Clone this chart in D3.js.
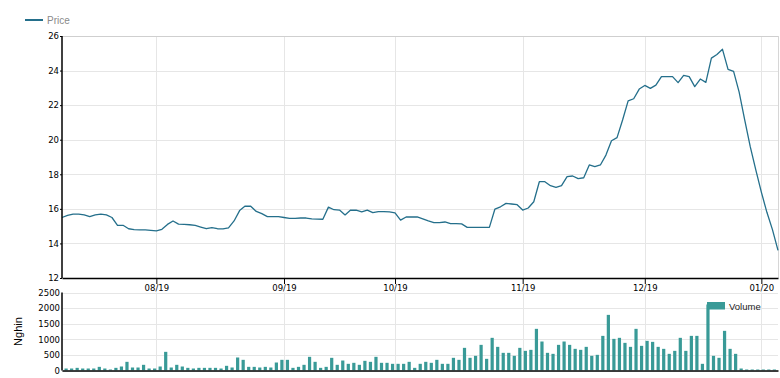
<!DOCTYPE html>
<html>
<head>
<meta charset="utf-8">
<script src="https://cdn.jsdelivr.net/npm/d3@7"></script>
<style>
  body { margin: 0; background: #fff; }
  svg { display: block; }
</style>
</head>
<body>
<div id="chart"></div>
<script>
// price / volume chart, two stacked panels sharing the trading-day index

const tickIndex = [17, 40, 60, 83, 105, 126];
const tickLabels = ["08/19", "09/19", "10/19", "11/19", "12/19", "01/20"];
const priceTicks = [12, 14, 16, 18, 20, 22, 24, 26];
const volumeTicks = [0, 500, 1000, 1500, 2000, 2500];

const price = [
  15.5, 15.62, 15.7, 15.7, 15.65, 15.55, 15.65, 15.7, 15.65, 15.5,
  15.05, 15.05, 14.85, 14.8, 14.78, 14.78, 14.76, 14.73, 14.82, 15.1,
  15.3, 15.12, 15.1, 15.08, 15.05, 14.95, 14.85, 14.92, 14.85, 14.84,
  14.9, 15.3, 15.9, 16.16, 16.15, 15.85, 15.72, 15.55, 15.55, 15.55,
  15.5, 15.45, 15.45, 15.47, 15.47, 15.42, 15.41, 15.4, 16.1, 15.95,
  15.93, 15.65, 15.93, 15.92, 15.82, 15.93, 15.78, 15.84, 15.84, 15.82,
  15.77, 15.35, 15.53, 15.53, 15.53, 15.42, 15.3, 15.2, 15.2, 15.24,
  15.14, 15.14, 15.13, 14.93, 14.93, 14.93, 14.93, 14.93, 15.99, 16.12,
  16.32, 16.28, 16.24, 15.93, 16.05, 16.41, 17.57, 17.57, 17.34, 17.24,
  17.34, 17.86, 17.9, 17.75, 17.8, 18.54, 18.44, 18.54, 19.11, 19.94,
  20.12, 21.14, 22.25, 22.37, 22.93, 23.14, 22.97, 23.16, 23.65, 23.65,
  23.65, 23.3, 23.72, 23.65, 23.07, 23.51, 23.32, 24.72, 24.93, 25.23,
  24.07, 23.95, 22.75, 21.15, 19.6, 18.25, 16.97, 15.8, 14.8, 13.6
];

// thousands of shares
const volume = [
  64, 64, 85, 64, 64, 64, 117, 64, 32, 85,
  128, 278, 96, 96, 182, 64, 64, 128, 598, 96,
  182, 128, 85, 64, 85, 85, 85, 85, 64, 150,
  96, 417, 342, 117, 117, 96, 117, 96, 256, 342,
  342, 85, 117, 182, 438, 278, 85, 117, 406, 182,
  320, 214, 246, 182, 310, 278, 438, 246, 246, 214,
  214, 214, 278, 85, 214, 278, 246, 342, 214, 214,
  406, 342, 726, 406, 470, 822, 374, 1047, 758, 566,
  566, 470, 726, 630, 662, 1335, 929, 566, 534, 822,
  929, 822, 694, 662, 758, 470, 502, 1110, 1783, 1014,
  1047, 886, 758, 1335, 790, 950, 918, 758, 694, 534,
  630, 1047, 630, 1110, 1110, 214, 2115, 470, 406, 1271,
  694, 534, 64, 32, 32, 32, 32, 32, 32, 0
];

const width = 780, height = 378;
const left = 62, right = 778;
const pTop = 36, pBottom = 278;
const vTop = 292.5, vBottom = 370.5;

const lineColor = "#246f8b";
const barColor = "#399a97";
const gridColor = "#e6e6e6";
const tickFont = "'DejaVu Sans', Verdana, sans-serif";
const legendFont = "'Liberation Sans', Arial, sans-serif";

const svg = d3.select("#chart").append("svg")
  .attr("width", width)
  .attr("height", height);

const idx = d3.range(price.length);

const x = d3.scalePoint().domain(idx).range([left, right]);
const xVol = d3.scaleBand().domain(idx).range([64.5, 781.5]).paddingInner(0.42);

const yPrice = d3.scaleLinear().domain([12, 26]).range([pBottom, pTop]);
const yVol = d3.scaleLinear().domain([0, 2500]).range([vBottom, vTop]);

svg.append("defs").append("clipPath").attr("id", "volClip")
  .append("rect")
  .attr("x", left).attr("y", vTop - 20)
  .attr("width", right - left).attr("height", vBottom - vTop + 20);

// ---- grids
function hGrid(scale, ticks) {
  svg.append("g")
    .selectAll("line")
    .data(ticks)
    .enter().append("line")
    .attr("x1", left).attr("x2", right)
    .attr("y1", d => Math.round(scale(d)) + 0.5)
    .attr("y2", d => Math.round(scale(d)) + 0.5)
    .attr("stroke", gridColor)
    .attr("stroke-width", 1);
}
hGrid(yPrice, priceTicks);
hGrid(yVol, volumeTicks);

function vGrid(y0, y1) {
  svg.append("g")
    .selectAll("line")
    .data(tickIndex)
    .enter().append("line")
    .attr("x1", d => Math.round(x(d)) + 0.5)
    .attr("x2", d => Math.round(x(d)) + 0.5)
    .attr("y1", y0).attr("y2", y1)
    .attr("stroke", gridColor)
    .attr("stroke-width", 1);
}
vGrid(pTop, pBottom);
vGrid(vTop, vBottom);

// frame top / right of price panel
svg.append("line")
  .attr("x1", left).attr("x2", right + 1)
  .attr("y1", pTop + 0.5).attr("y2", pTop + 0.5)
  .attr("stroke", "#cfcfcf");
svg.append("line")
  .attr("x1", right + 0.5).attr("x2", right + 0.5)
  .attr("y1", pTop).attr("y2", pBottom)
  .attr("stroke", "#d6d6d6");

// ---- price line
const line = d3.line()
  .x((d, i) => x(i))
  .y(d => yPrice(d));

svg.append("path")
  .datum(price)
  .attr("fill", "none")
  .attr("stroke", lineColor)
  .attr("stroke-width", 1.3)
  .attr("stroke-linejoin", "round")
  .attr("d", line);

// ---- volume bars
svg.append("g")
  .attr("clip-path", "url(#volClip)")
  .selectAll("rect")
  .data(volume)
  .enter().append("rect")
  .attr("x", (d, i) => xVol(i))
  .attr("width", xVol.bandwidth())
  .attr("y", d => yVol(d))
  .attr("height", d => vBottom - yVol(d))
  .attr("fill", barColor);

// ---- axes
const yAxisP = svg.append("g")
  .attr("transform", `translate(${left},0)`)
  .call(d3.axisLeft(yPrice).tickValues(priceTicks).tickSize(2).tickSizeOuter(0).tickPadding(1));

const yAxisV = svg.append("g")
  .attr("transform", `translate(${left},0)`)
  .call(d3.axisLeft(yVol).tickValues(volumeTicks).tickFormat(d3.format("d"))
    .tickSize(0).tickPadding(2));

const xAxisP = svg.append("g")
  .attr("transform", `translate(0,${pBottom})`)
  .call(d3.axisBottom(x)
    .tickValues(tickIndex)
    .tickFormat((d, i) => tickLabels[i])
    .tickSize(6).tickSizeOuter(0).tickPadding(1));

const xAxisV = svg.append("g")
  .attr("transform", `translate(0,${vBottom})`)
  .call(d3.axisBottom(x).tickValues([]).tickSizeOuter(0));

[yAxisP, yAxisV, xAxisP, xAxisV].forEach(g => {
  g.select(".domain").attr("stroke", "#000").attr("stroke-width", 1.5);
  g.selectAll(".tick line").attr("stroke", "#000");
  g.selectAll("text")
    .attr("font-family", tickFont)
    .attr("font-size", "8.5px")
    .attr("fill", "#000");
});
yAxisP.select(".domain").attr("d", `M0,${pTop}V${pBottom}`);
yAxisV.select(".domain").attr("d", `M0,${vTop}V${vBottom}`);

// y-axis title for volume
svg.append("text")
  .attr("transform", `translate(22,${(vTop + vBottom) / 2}) rotate(-90)`)
  .attr("text-anchor", "middle")
  .attr("font-family", legendFont)
  .attr("font-size", "11px")
  .attr("fill", "#000")
  .text("Nghin");

// ---- legends
svg.append("line")
  .attr("x1", 25).attr("x2", 43)
  .attr("y1", 20).attr("y2", 20)
  .attr("stroke", lineColor)
  .attr("stroke-width", 2);
svg.append("text")
  .attr("x", 47).attr("y", 24)
  .attr("font-family", legendFont)
  .attr("font-size", "10px")
  .attr("fill", "#8a8a8a")
  .text("Price");

svg.append("rect")
  .attr("x", 707).attr("y", 302)
  .attr("width", 18).attr("height", 7.5)
  .attr("fill", barColor);
svg.append("text")
  .attr("x", 729).attr("y", 310)
  .attr("font-family", legendFont)
  .attr("font-size", "9.5px")
  .attr("fill", "#222")
  .text("Volume");
</script>
</body>
</html>
